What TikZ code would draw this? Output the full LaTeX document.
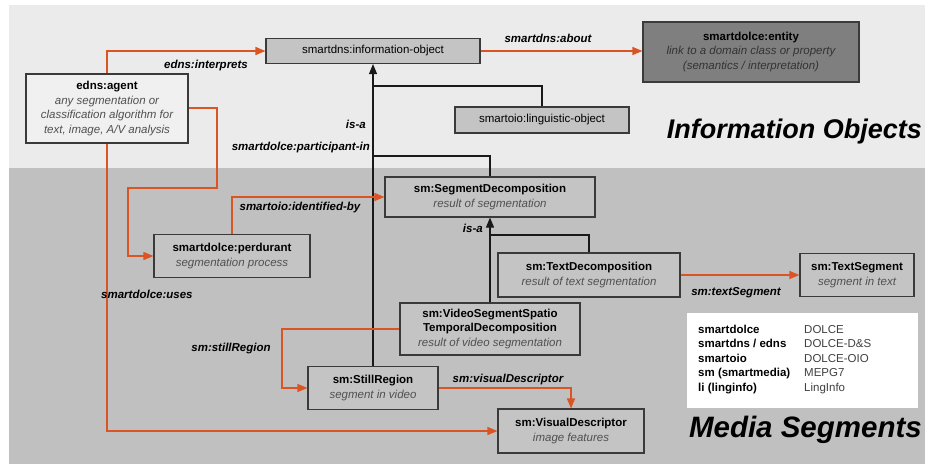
\documentclass[tikz,border=0pt]{standalone}
\usepackage{fontspec}
\setmainfont{Liberation Sans}
\usetikzlibrary{arrows.meta}

\definecolor{bandtop}{HTML}{EBEBEB}
\definecolor{bandbot}{HTML}{C0C0C0}
\definecolor{boxline}{HTML}{3A3A3A}
\definecolor{boxmid}{HTML}{C4C4C4}
\definecolor{boxlight}{HTML}{F0F0F0}
\definecolor{boxdark}{HTML}{7F7F7F}
\definecolor{relorange}{RGB}{218,85,35}
\definecolor{subtext}{HTML}{505050}

\tikzset{
  cls/.style={draw=boxline, line width=1.1pt, fill=boxmid, align=center,
    inner sep=0pt, font=\fontsize{11.5}{14.5}\selectfont},
  rel/.style={draw=relorange, line width=1.4pt, -{Triangle[length=10pt,width=8pt]}},
  isa/.style={draw=black!90, line width=1.1pt, -{Triangle[length=10pt,width=8pt]}},
  isaline/.style={draw=black!90, line width=1.1pt},
  rellabel/.style={font=\fontsize{11.5}{13}\selectfont\bfseries\itshape, inner sep=0pt},
  heading/.style={font=\fontsize{27}{30}\selectfont\bfseries\itshape, inner sep=0pt, anchor=base east},
}
\newcommand{\subline}[1]{{\color{subtext}\itshape #1}}

\begin{document}
\begin{tikzpicture}[x=1pt,y=-1pt]
  % canvas and the two bands
  \useasboundingbox (0,0) rectangle (925,464);
  \fill[white] (0,0) rectangle (925,464);
  \fill[bandtop] (9,5) rectangle (925,168);
  \fill[bandbot] (9,168) rectangle (925,464);

  % classes
  \node[cls, minimum width=214pt, minimum height=25pt] (io) at (373,51)
    {smartdns:information-object};
  \node[cls, fill=boxdark, minimum width=216pt, minimum height=60pt] (ent) at (751,52)
    {\textbf{smartdolce:entity}\\{\color{black!80}\itshape link to a domain class or property}\\{\color{black!80}\itshape (semantics / interpretation)}};
  \node[cls, minimum width=174pt, minimum height=26pt] (ling) at (542,120)
    {smartoio:linguistic-object};
  \node[cls, fill=boxlight, minimum width=162pt, minimum height=69pt] (agent) at (107,108.5)
    {\textbf{edns:agent}\\\subline{any segmentation or}\\\subline{classification algorithm for}\\\subline{text, image, A/V analysis}};
  \node[cls, minimum width=210pt, minimum height=40pt] (segdec) at (490,197)
    {\textbf{sm:SegmentDecomposition}\\\subline{result of segmentation}};
  \node[cls, minimum width=156pt, minimum height=43pt] (perd) at (232,256)
    {\textbf{smartdolce:perdurant}\\\subline{segmentation process}};
  \node[cls, minimum width=182pt, minimum height=44pt] (textdec) at (589,275)
    {\textbf{sm:TextDecomposition}\\\subline{result of text segmentation}};
  \node[cls, minimum width=114pt, minimum height=43pt] (textseg) at (857,275)
    {\textbf{sm:TextSegment}\\\subline{segment in text}};
  \node[cls, minimum width=180pt, minimum height=52pt] (video) at (490,329)
    {\textbf{sm:VideoSegmentSpatio}\\\textbf{TemporalDecomposition}\\\subline{result of video segmentation}};
  \node[cls, minimum width=130pt, minimum height=43pt] (still) at (373,388)
    {\textbf{sm:StillRegion}\\\subline{segment in video}};
  \node[cls, minimum width=146pt, minimum height=44pt] (visdesc) at (571,431)
    {\textbf{sm:VisualDescriptor}\\\subline{image features}};

  % taxonomy (is-a) lines
  \coordinate (jling) at (373,86);
  \coordinate (jseg) at (373,156);
  \coordinate (jtext) at (490,235);
  \draw[isa] (still.north) -- (io.south);
  \draw[isaline] (ling.north) |- (jling);
  \draw[isaline] (jseg) -| (segdec.north);
  \draw[isa] (video.north) -- (segdec.south);
  \draw[isaline] (textdec.north) |- (jtext);
  \node[rellabel, anchor=east] (lisa1) at (366,124) {is-a};
  \node[rellabel, anchor=east] (lisa2) at (483,228) {is-a};

  % relations
  \draw[rel] (agent.north) |- (io.west);
  \node[rellabel] (linterp) at (206,66) {edns:interprets};

  \draw[rel] (io.east) -- (io.east -| ent.west);
  \node[rellabel] (labout) at (548,38) {smartdns:about};

  \draw[rel] (agent.east |- 0,108) -- (217,108) -- (217,188) -- (128,188) |- (perd.west);
  \node[rellabel, anchor=east] (lpart) at (370,148) {smartdolce:participant-in};

  \draw[rel] (perd.north) |- (segdec.west);
  \node[rellabel] (lident) at (300,208) {smartoio:identified-by};

  \draw[rel] (agent.south) |- (visdesc.west);
  \node[rellabel, anchor=west] (luses) at (101,294) {smartdolce:uses};

  \draw[rel] (textdec.east) -- (textdec.east -| textseg.west);
  \node[rellabel] (ltext) at (736,293) {sm:textSegment};

  \draw[rel] (video.west) -- (282,329) |- (still.west);
  \node[rellabel] (lstill) at (231,349) {sm:stillRegion};

  \draw[rel] (still.east) -| (visdesc.north);
  \node[rellabel] (lvis) at (508,380) {sm:visualDescriptor};

  % prefix legend
  \fill[white] (687,313) rectangle (918,408);
  \node[inner sep=0pt, anchor=base west, font=\fontsize{11.5}{14.5}\selectfont] (legend) at (698,333)
    {\begin{tabular}[t]{@{}p{106pt}@{}l@{}}
      \textbf{smartdolce} & {\color{black!75}DOLCE}\\
      \textbf{smartdns / edns} & {\color{black!75}DOLCE-D\&S}\\
      \textbf{smartoio} & {\color{black!75}DOLCE-OIO}\\
      \textbf{sm (smartmedia)} & {\color{black!75}MEPG7}\\
      \textbf{li (linginfo)} & {\color{black!75}LingInfo}
    \end{tabular}};

  % band headings
  \node[heading] (hinfo) at (922,138) {Information Objects};
  \node[heading, font=\fontsize{29.5}{32}\selectfont\bfseries\itshape] (hmedia) at (922,437) {Media Segments};
\end{tikzpicture}
\end{document}
